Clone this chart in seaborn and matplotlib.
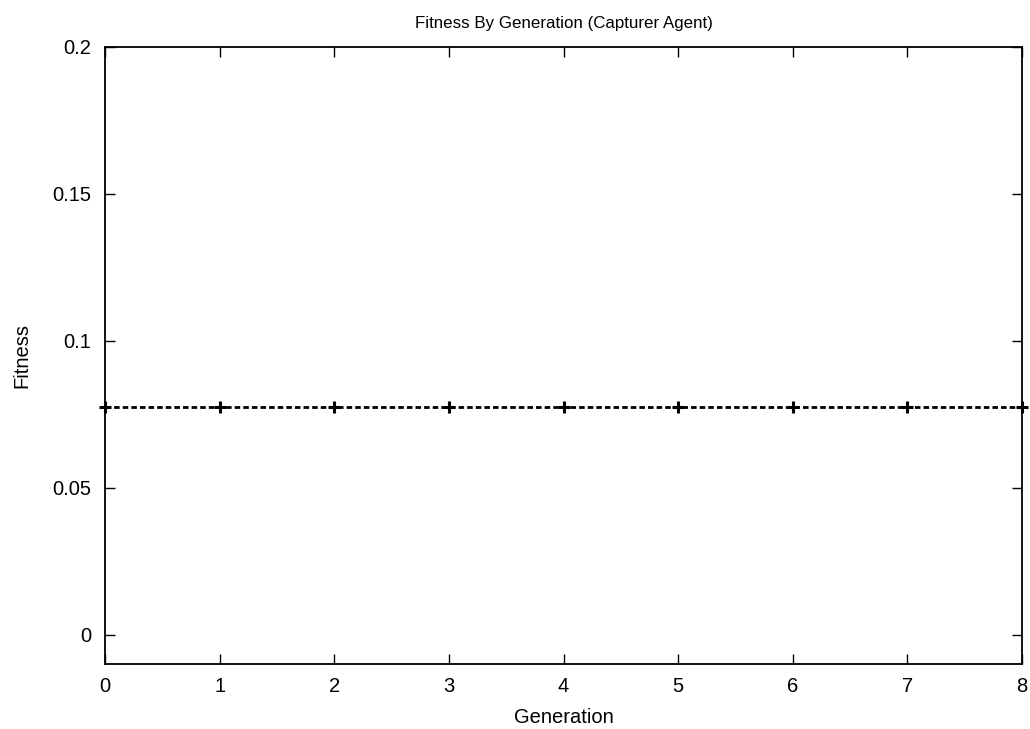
import matplotlib
matplotlib.use("Agg")
import matplotlib.pyplot as plt
import seaborn as sns
import pandas as pd

generations = [0, 1, 2, 3, 4, 5, 6, 7, 8]
fitness = [0.0775, 0.0775, 0.0775, 0.0775, 0.0775, 0.0775, 0.0775, 0.0775, 0.0775]
xticks = [0, 1, 2, 3, 4, 5, 6, 7, 8]
yticks = [0, 0.05, 0.1, 0.15, 0.2]
ytick_labels = ["0", "0.05", "0.1", "0.15", "0.2"]

sns.set_theme(style="white")
plt.rcParams['font.family'] = ['Liberation Sans', 'DejaVu Sans']

df = pd.DataFrame({"Generation": generations, "Fitness": fitness})

fig = plt.figure(figsize=(10.3, 7.29), dpi=100)
ax = fig.add_axes([105/1030, 1 - 664/729, (1022-105)/1030, (664-47)/729])

sns.lineplot(data=df, x="Generation", y="Fitness", ax=ax, color="black",
             linestyle=(0, (2.0, 1.1)), linewidth=2.0, marker="+", markersize=8,
             markeredgewidth=2.2, markeredgecolor="black", clip_on=False)

ax.set_xlim(0, 8)
ax.set_ylim(-0.01, 0.2)
ax.set_xticks(xticks)
ax.set_xticklabels([str(t) for t in xticks])
ax.set_yticks(yticks)
ax.set_yticklabels(ytick_labels)
ax.tick_params(direction="in", length=7, width=1, color="black",
               top=True, right=True, bottom=True, left=True,
               labelsize=14.5, labelcolor="black")
ax.tick_params(axis="x", pad=9)
ax.tick_params(axis="y", pad=10)
for s in ax.spines.values():
    s.set_visible(True)
    s.set_color("black")
    s.set_linewidth(1.3)
ax.set_xlabel("Generation", fontsize=14.5, color="black", labelpad=9)
ax.set_ylabel("Fitness", fontsize=14.5, color="black", labelpad=15)
ax.set_title("Fitness By Generation (Capturer Agent)", fontsize=12.2, color="black", pad=14)
ax.grid(False)

fig.savefig("out.png", dpi=100)
